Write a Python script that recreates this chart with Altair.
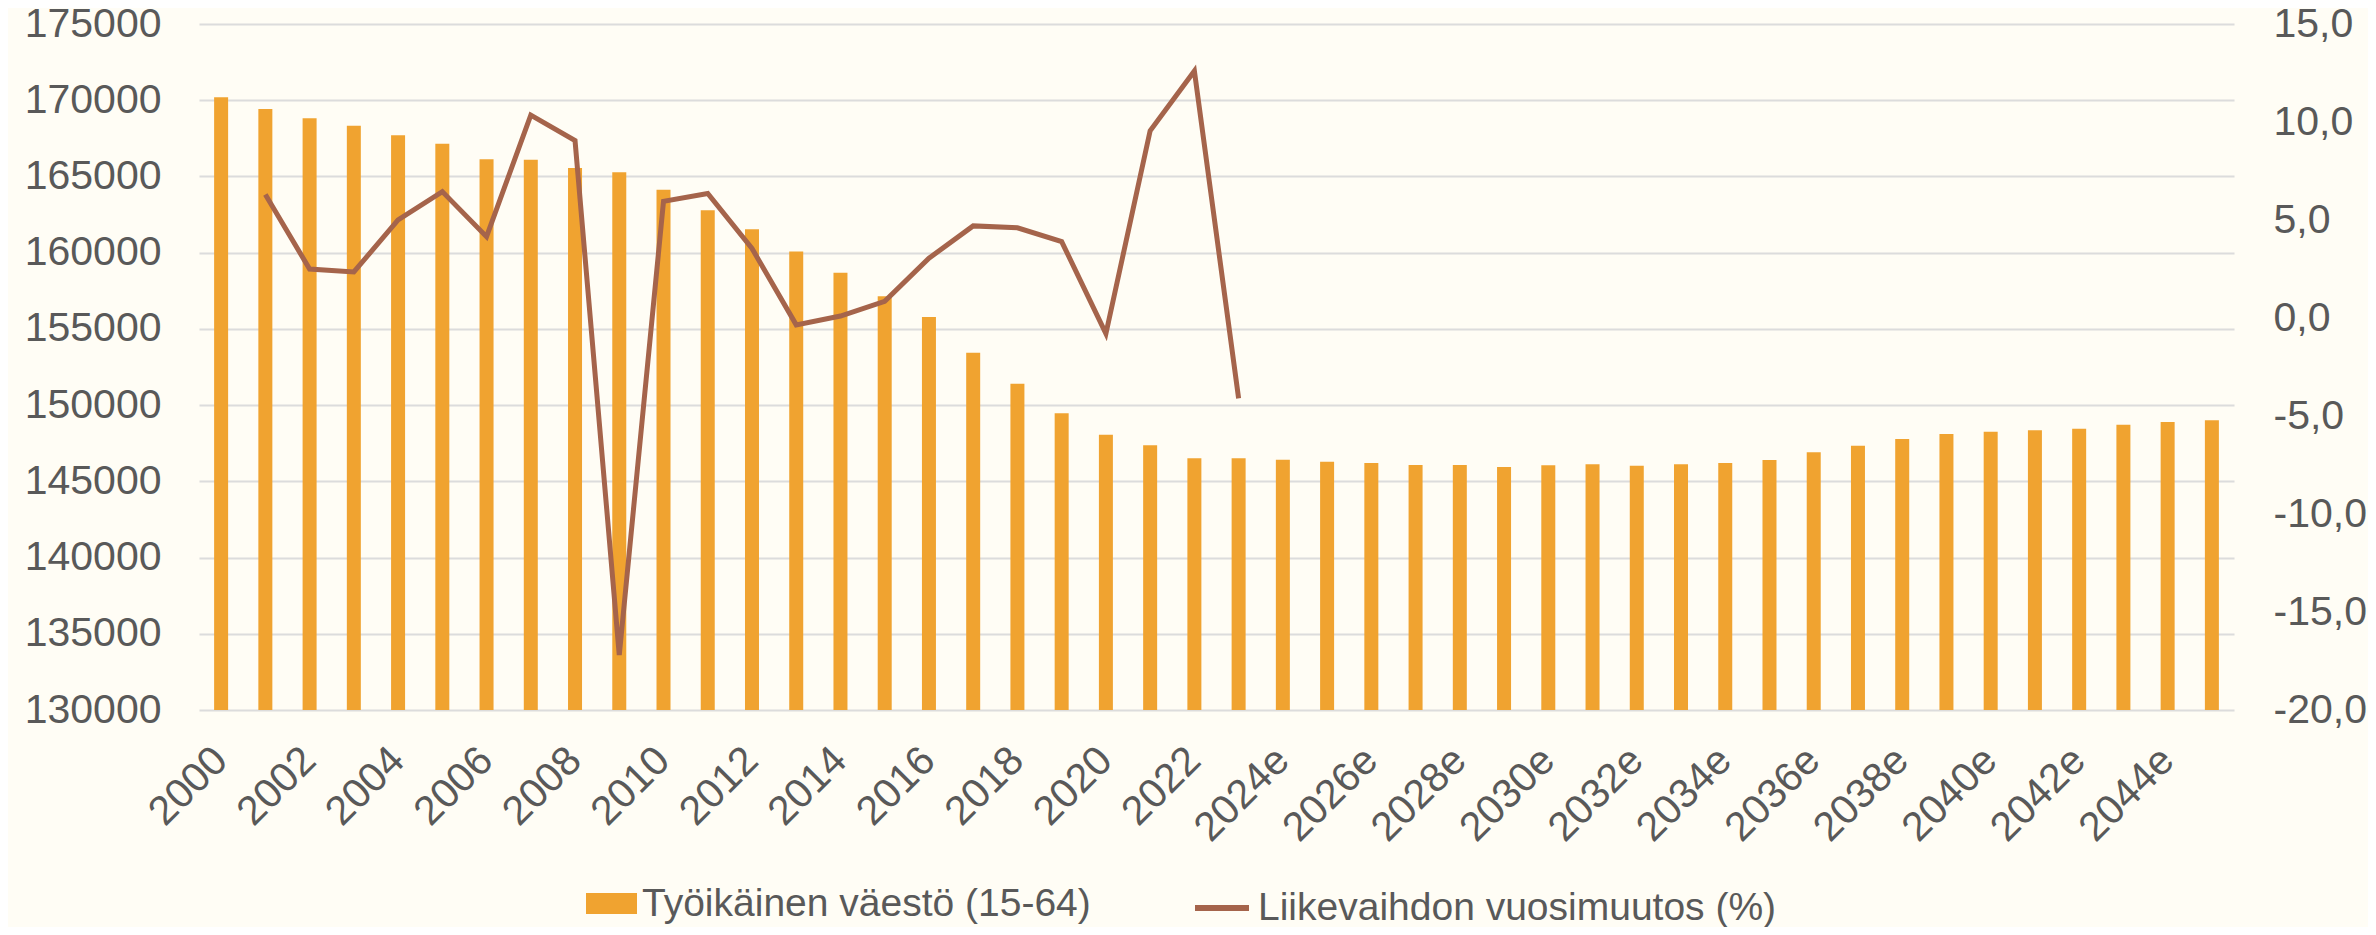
import altair as alt
import pandas as pd

years = [str(y) for y in range(2000, 2024)] + [f"{y}e" for y in range(2024, 2046)]

population = [
    170200, 169420, 168810, 168330, 167700, 167150, 166120, 166100, 165550, 165270,
    164130, 162780, 161530, 160070, 158690, 157135, 155780, 153440, 151400, 149460,
    148060, 147360, 146510, 146510, 146420, 146290, 146200, 146070, 146070, 145940,
    146050, 146115, 146025, 146115, 146200, 146400, 146900, 147340, 147775, 148100,
    148255, 148345, 148450, 148715, 148890, 149000,
]

change_years = [str(y) for y in range(2001, 2024)]
change = [
    6.3, 2.5, 2.35, 5.0, 6.45, 4.15, 10.35, 9.05, -17.2, 5.95,
    6.35, 3.55, -0.35, 0.1, 0.85, 3.05, 4.7, 4.6, 3.9, -0.8,
    9.55, 12.6, -4.1,
]

label_years = years[::2]

BAR_NAME = "Työikäinen väestö (15-64)"
LINE_NAME = "Liikevaihdon vuosimuutos (%)"
ORANGE = "#F0A330"
BROWN = "#A5644B"
TEXT = "#595959"
GRID = "#DCDCDC"
FONT = "Liberation Sans"
FS = 41
Y_MIN, Y_MAX = 130000, 175000

bars_df = pd.DataFrame({"vuosi": years, "vaesto": population, "sarja": BAR_NAME})
line_df = pd.DataFrame({"vuosi": change_years, "muutos": change, "sarja2": LINE_NAME})

x_enc = alt.X(
    "vuosi:N",
    sort=years,
    scale=alt.Scale(domain=years),
    axis=alt.Axis(
        title=None,
        values=label_years,
        labelAngle=-45,
        labelAlign="right",
        labelBaseline="middle",
        labelPadding=44,
        labelFontSize=FS,
        labelColor=TEXT,
        labelFont=FONT,
        ticks=False,
        tickSize=0,
        domain=False,
        grid=False,
        labelOverlap=False,
    ),
)

bars = alt.Chart(bars_df).mark_bar(size=14).encode(
    x=x_enc,
    y=alt.Y(
        "vaesto:Q",
        scale=alt.Scale(domain=[Y_MIN, Y_MAX], zero=False, nice=False),
        axis=alt.Axis(
            title=None,
            orient="left",
            values=list(range(Y_MIN, Y_MAX + 1, 5000)),
            format="d",
            labelFontSize=FS,
            labelColor=TEXT,
            labelFont=FONT,
            labelPadding=38,
            ticks=False,
            tickSize=0,
            domain=False,
            grid=True,
            gridColor=GRID,
            gridWidth=2,
        ),
    ),
    y2=alt.datum(Y_MIN),
    color=alt.Color(
        "sarja:N",
        scale=alt.Scale(domain=[BAR_NAME], range=[ORANGE]),
        legend=alt.Legend(
            title=None,
            orient="none",
            legendX=387,
            legendY=854,
            symbolType="M-1,-0.41H1V0.41H-1Z",
            symbolSize=2601,
            symbolStrokeWidth=0,
            labelFontSize=39,
            labelColor=TEXT,
            labelFont=FONT,
            labelOffset=5,
            labelLimit=1000,
        ),
    ),
)

line = alt.Chart(line_df).mark_line(strokeWidth=5, strokeJoin="miter").encode(
    x=alt.X("vuosi:N", sort=years, scale=alt.Scale(domain=years)),
    y=alt.Y(
        "muutos:Q",
        scale=alt.Scale(domain=[-20, 15], nice=False, zero=False),
        axis=alt.Axis(
            title=None,
            orient="right",
            values=list(range(-20, 16, 5)),
            labelExpr="replace(replace(format(datum.value, '.1f'), '.', ','), '\u2212', '-')",
            labelFontSize=FS,
            labelColor=TEXT,
            labelFont=FONT,
            labelPadding=39,
            ticks=False,
            tickSize=0,
            domain=False,
            grid=False,
        ),
    ),
    stroke=alt.Stroke(
        "sarja2:N",
        scale=alt.Scale(domain=[LINE_NAME], range=[BROWN]),
        legend=alt.Legend(
            title=None,
            orient="none",
            legendX=993,
            legendY=854,
            symbolType="stroke",
            symbolSize=2916,
            symbolStrokeWidth=6,
            labelFontSize=39,
            labelColor=TEXT,
            labelFont=FONT,
            labelOffset=6,
            labelLimit=1000,
        ),
    ),
)

chart = (
    alt.layer(bars, line)
    .resolve_scale(y="independent", color="independent", stroke="independent")
    .properties(
        width=2035,
        height=686,
        padding={"left": 191, "top": 16, "right": 134, "bottom": 217},
        autosize=alt.AutoSizeParams(type="none"),
        background="#FFFDF5",
    )
    .configure_view(stroke=None)
    .configure_axis(labelFont=FONT)
)

chart.save("out.html", embed_options={"renderer": "svg", "actions": False})
